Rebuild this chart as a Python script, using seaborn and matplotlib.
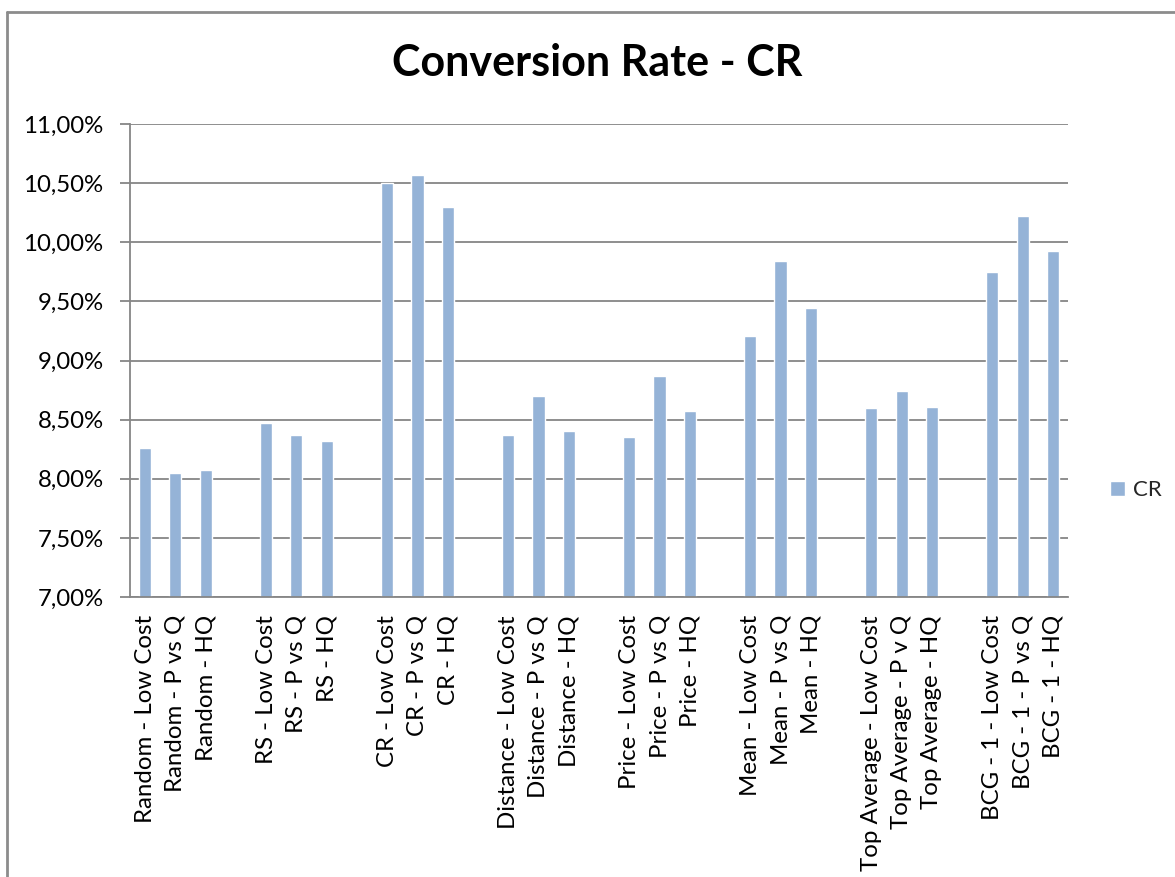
import matplotlib
matplotlib.use("Agg")
import matplotlib.pyplot as plt
import matplotlib.ticker as mticker
import seaborn as sns
import pandas as pd

# Strategy groups and their three variants
groups = ["Random", "RS", "CR", "Distance", "Price", "Mean", "Top Average", "BCG - 1"]
variants = ["Low Cost", "P vs Q", "HQ"]

labels = [
    "Random - Low Cost", "Random - P vs Q", "Random - HQ",
    "RS - Low Cost", "RS - P vs Q", "RS - HQ",
    "CR - Low Cost", "CR - P vs Q", "CR - HQ",
    "Distance - Low Cost", "Distance - P vs Q", "Distance - HQ",
    "Price - Low Cost", "Price - P vs Q", "Price - HQ",
    "Mean - Low Cost", "Mean - P vs Q", "Mean - HQ",
    "Top Average - Low Cost", "Top Average - P v Q", "Top Average - HQ",
    "BCG - 1 - Low Cost", "BCG - 1 - P vs Q", "BCG - 1 - HQ",
]

# Conversion rate in percent
cr_values = [
    8.26, 8.05, 8.07,
    8.47, 8.37, 8.32,
    10.50, 10.57, 10.30,
    8.37, 8.70, 8.40,
    8.35, 8.87, 8.57,
    9.21, 9.84, 9.44,
    8.60, 8.74, 8.61,
    9.75, 10.22, 9.93,
]

y_ticks = [7.0, 7.5, 8.0, 8.5, 9.0, 9.5, 10.0, 10.5, 11.0]

df = pd.DataFrame({"label": labels, "CR": cr_values})

# Category order with an empty slot between every group of three
order = []
for i in range(len(groups)):
    order.extend(labels[3 * i:3 * i + 3])
    if i < len(groups) - 1:
        order.append(" " * (i + 1))

sns.set_theme(style="white")
plt.rcParams["font.family"] = ["Lato", "DejaVu Sans"]

W, H = 1175, 877
fig = plt.figure(figsize=(W / 100, H / 100), dpi=100)
ax = fig.add_axes([130 / W, 1 - 597 / H, 938 / W, 473 / H])

bar_color = "#95B3D7"
grid_color = "#868686"

sns.barplot(data=df, x="label", y="CR", order=order, color=bar_color,
            width=0.4, saturation=1, label="CR", ax=ax, zorder=3)

ax.set_xlim(-0.5, len(order) - 0.5)
ax.set_ylim(7.0, 11.0)
ax.set_yticks(y_ticks)
ax.yaxis.set_major_formatter(
    mticker.FuncFormatter(lambda v, p: f"{v:.2f}".replace(".", ",") + "%"))
ax.grid(axis="y", color=grid_color, linewidth=1.3, zorder=0)
ax.set_axisbelow(True)

ax.set_xlabel("")
ax.set_ylabel("")
ax.set_xticks(range(len(order)))
ax.set_xticklabels([o if o.strip() else "" for o in order], rotation=90,
                   ha="center", va="top")

# Category boundary ticks below the axis
ax.set_xticks([i - 0.5 for i in range(len(order) + 1)], minor=True)
ax.tick_params(axis="x", which="major", length=0, pad=13, labelsize=17.3,
               labelcolor="black")
ax.tick_params(axis="x", which="minor", length=7, width=1.3, color=grid_color,
               direction="out")
ax.tick_params(axis="y", which="major", length=7, width=1.3, color=grid_color,
               direction="out", pad=12, labelsize=17.3, labelcolor="black", left=True)

for side in ["top", "right"]:
    ax.spines[side].set_visible(False)
for side in ["left", "bottom"]:
    ax.spines[side].set_color(grid_color)
    ax.spines[side].set_linewidth(1.3)
    ax.spines[side].set_zorder(4)

fig.text(597 / W, 1 - 63 / H, "Conversion Rate - CR", ha="center", va="center",
         fontsize=31, fontweight="bold", color="black")

ax.legend(loc="center left", bbox_to_anchor=(1110 / W, 1 - 490 / H),
          bbox_transform=fig.transFigure, frameon=False, fontsize=16,
          handlelength=0.68, handleheight=0.68, handletextpad=0.35,
          borderpad=0, borderaxespad=0)

# Outer chart frame
fig.add_artist(plt.Line2D([7 / W, 7 / W], [0, 1 - 12 / H], transform=fig.transFigure,
                          color="#8c8c8c", linewidth=2))
fig.add_artist(plt.Line2D([7 / W, 1], [1 - 12 / H, 1 - 12 / H], transform=fig.transFigure,
                          color="#8c8c8c", linewidth=2))

fig.savefig("out.png", dpi=100)
